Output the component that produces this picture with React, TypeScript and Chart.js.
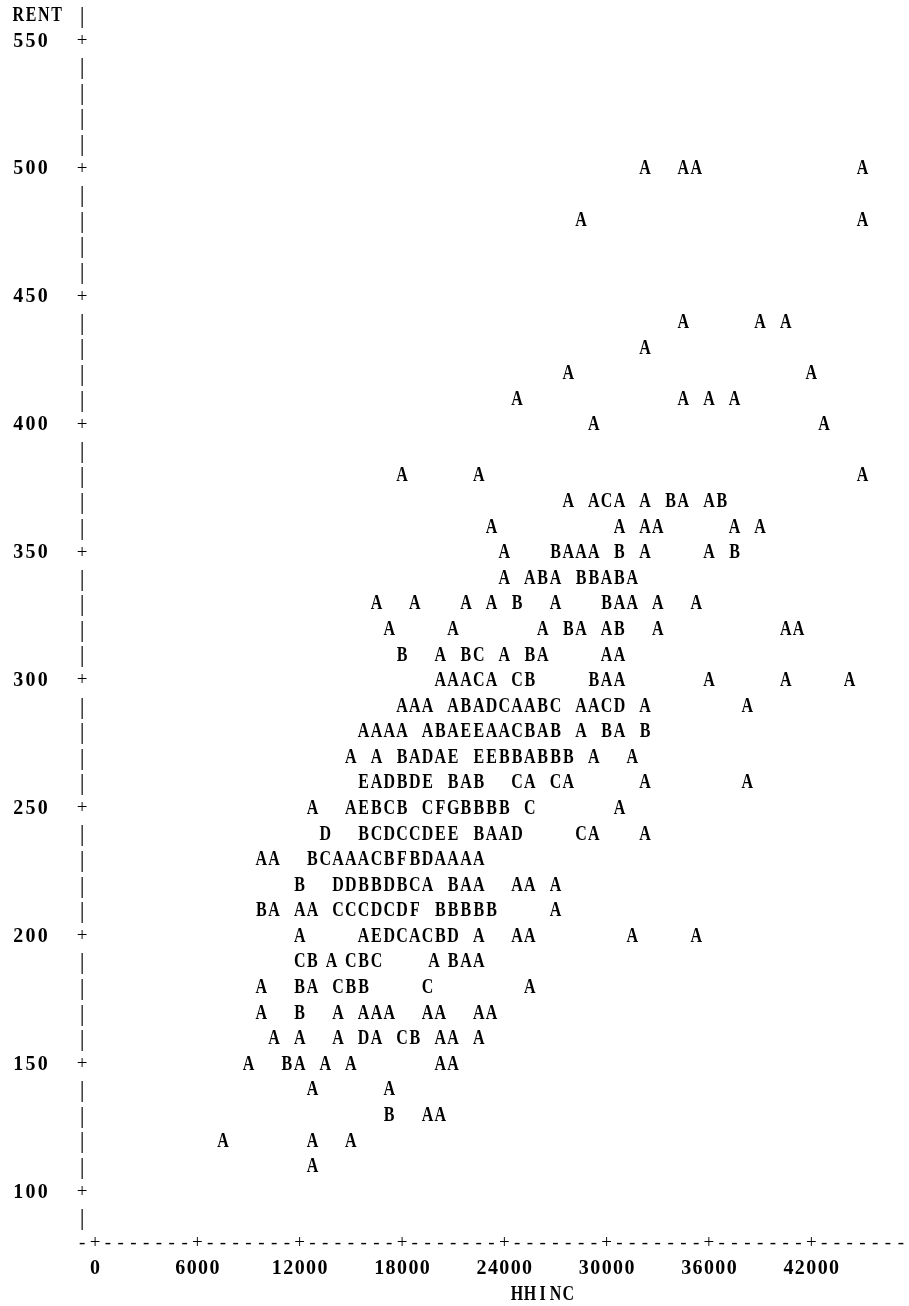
import { useEffect, useRef } from "react";
import { Chart, registerables } from "chart.js";

Chart.register(...registerables);

// [HHINC, number of observations]  (A = 1 obs, B = 2 obs, ...)
type Cell = [number, number];

const rent500: Cell[] = [[32250, 1], [34500, 1], [35250, 1], [45000, 1]];
const rent480: Cell[] = [[28500, 1], [45000, 1]];
const rent440: Cell[] = [[34500, 1], [39000, 1], [40500, 1]];
const rent430: Cell[] = [[32250, 1]];
const rent420: Cell[] = [[27750, 1], [42000, 1]];
const rent410: Cell[] = [[24750, 1], [34500, 1], [36000, 1], [37500, 1]];
const rent400: Cell[] = [[29250, 1], [42750, 1]];
const rent380: Cell[] = [[18000, 1], [22500, 1], [45000, 1]];
const rent370: Cell[] = [[27750, 1], [29250, 1], [30000, 3], [30750, 1], [32250, 1], [33750, 2], [34500, 1], [36000, 1], [36750, 2]];
const rent360: Cell[] = [[23250, 1], [30750, 1], [32250, 1], [33000, 1], [37500, 1], [39000, 1]];
const rent350: Cell[] = [[24000, 1], [27000, 2], [27750, 1], [28500, 1], [29250, 1], [30750, 2], [32250, 1], [36000, 1], [37500, 2]];
const rent340: Cell[] = [[24000, 1], [25500, 1], [26250, 2], [27000, 1], [28500, 2], [29250, 2], [30000, 1], [30750, 2], [31500, 1]];
const rent330: Cell[] = [[16500, 1], [18750, 1], [21750, 1], [23250, 1], [24750, 2], [27000, 1], [30000, 2], [30750, 1], [31500, 1], [33000, 1], [35250, 1]];
const rent320: Cell[] = [[17250, 1], [21000, 1], [26250, 1], [27750, 2], [28500, 1], [30000, 1], [30750, 2], [33000, 1], [40500, 1], [41250, 1]];
const rent310: Cell[] = [[18000, 2], [20250, 1], [21750, 2], [22500, 3], [24000, 1], [25500, 2], [26250, 1], [30000, 1], [30750, 1]];
const rent300: Cell[] = [[20250, 1], [21000, 1], [21750, 1], [22500, 3], [23250, 1], [24750, 3], [25500, 2], [29250, 2], [30000, 1], [30750, 1], [36000, 1], [40500, 1], [44250, 1]];
const rent290: Cell[] = [[18000, 1], [18750, 1], [19500, 1], [21000, 1], [21750, 2], [22500, 1], [23250, 4], [24000, 3], [24750, 1], [25500, 1], [26250, 2], [27000, 3], [28500, 1], [29250, 1], [30000, 3], [30750, 4], [32250, 1], [38250, 1]];
const rent280: Cell[] = [[15750, 1], [16500, 1], [17250, 1], [18000, 1], [19500, 1], [20250, 2], [21000, 1], [21750, 5], [22500, 5], [23250, 1], [24000, 1], [24750, 3], [25500, 2], [26250, 1], [27000, 2], [28500, 1], [30000, 2], [30750, 1], [32250, 2]];
const rent270: Cell[] = [[15000, 1], [16500, 1], [18000, 2], [18750, 1], [19500, 4], [20250, 1], [21000, 5], [22500, 5], [23250, 5], [24000, 2], [24750, 2], [25500, 1], [26250, 2], [27000, 2], [27750, 2], [29250, 1], [31500, 1]];
const rent260: Cell[] = [[15750, 5], [16500, 1], [17250, 4], [18000, 2], [18750, 4], [19500, 5], [21000, 2], [21750, 1], [22500, 2], [24750, 3], [25500, 1], [27000, 3], [27750, 1], [32250, 1], [38250, 1]];
const rent250: Cell[] = [[12750, 1], [15000, 1], [15750, 5], [16500, 2], [17250, 3], [18000, 2], [19500, 3], [20250, 6], [21000, 7], [21750, 2], [22500, 2], [23250, 2], [24000, 2], [25500, 3], [30750, 1]];
const rent240: Cell[] = [[13500, 4], [15750, 2], [16500, 3], [17250, 4], [18000, 3], [18750, 3], [19500, 4], [20250, 5], [21000, 5], [22500, 2], [23250, 1], [24000, 1], [24750, 4], [28500, 3], [29250, 1], [32250, 1]];
const rent230: Cell[] = [[9750, 1], [10500, 1], [12750, 2], [13500, 3], [14250, 1], [15000, 1], [15750, 1], [16500, 3], [17250, 2], [18000, 6], [18750, 2], [19500, 4], [20250, 1], [21000, 1], [21750, 1], [22500, 1]];
const rent220: Cell[] = [[12000, 2], [14250, 4], [15000, 4], [15750, 2], [16500, 2], [17250, 4], [18000, 2], [18750, 3], [19500, 1], [21000, 2], [21750, 1], [22500, 1], [24750, 1], [25500, 1], [27000, 1]];
const rent210: Cell[] = [[9750, 2], [10500, 1], [12000, 1], [12750, 1], [14250, 3], [15000, 3], [15750, 3], [16500, 4], [17250, 3], [18000, 4], [18750, 6], [20250, 2], [21000, 2], [21750, 2], [22500, 2], [23250, 2], [27000, 1]];
const rent200: Cell[] = [[12000, 1], [15750, 1], [16500, 5], [17250, 4], [18000, 3], [18750, 1], [19500, 3], [20250, 2], [21000, 4], [22500, 1], [24750, 1], [25500, 1], [31500, 1], [35250, 1]];
const rent190: Cell[] = [[12000, 3], [12750, 2], [13875, 1], [15000, 3], [15750, 2], [16500, 3], [19875, 1], [21000, 2], [21750, 1], [22500, 1]];
const rent180: Cell[] = [[9750, 1], [12000, 2], [12750, 1], [14250, 3], [15000, 2], [15750, 2], [19500, 3], [25500, 1]];
const rent170: Cell[] = [[9750, 1], [12000, 2], [14250, 1], [15750, 1], [16500, 1], [17250, 1], [19500, 1], [20250, 1], [22500, 1], [23250, 1]];
const rent160: Cell[] = [[10500, 1], [12000, 1], [14250, 1], [15750, 4], [16500, 1], [18000, 3], [18750, 2], [20250, 1], [21000, 1], [22500, 1]];
const rent150: Cell[] = [[9000, 1], [11250, 2], [12000, 1], [13500, 1], [15000, 1], [20250, 1], [21000, 1]];
const rent140: Cell[] = [[12750, 1], [17250, 1]];
const rent130: Cell[] = [[17250, 2], [19500, 1], [20250, 1]];
const rent120: Cell[] = [[7500, 1], [12750, 1], [15000, 1]];
const rent110: Cell[] = [[12750, 1]];

const rentLevels = [500, 480, 440, 430, 420, 410, 400, 380, 370, 360, 350, 340, 330, 320, 310, 300, 290, 280, 270, 260, 250, 240, 230, 220, 210, 200, 190, 180, 170, 160, 150, 140, 130, 120, 110];
const rentCells = [rent500, rent480, rent440, rent430, rent420, rent410, rent400, rent380, rent370, rent360, rent350, rent340, rent330, rent320, rent310, rent300, rent290, rent280, rent270, rent260, rent250, rent240, rent230, rent220, rent210, rent200, rent190, rent180, rent170, rent160, rent150, rent140, rent130, rent120, rent110];

const yTickValues = [550, 500, 450, 400, 350, 300, 250, 200, 150, 100];
const xTickValues = [0, 6000, 12000, 18000, 24000, 30000, 36000, 42000];
const yTitle = "RENT";
const xTitle = "HHINC";

// line-printer grid: one print column = 750 HHINC, one print line = 10 RENT
const COL = 750;
const LINE = 10;

const FONT_BOLD = 'bold 20px "Liberation Serif", serif';
const FONT_THIN = '19px "Liberation Serif", serif';
const FONT_BAR = '24px "Liberation Serif", serif';
const SQUEEZE = 0.8;
const DIGIT_STEP = 11.4;

const printerPlugin = {
  id: "printer",
  afterDatasetsDraw(chart: any) {
    const ctx: CanvasRenderingContext2D = chart.ctx;
    const xs = chart.scales.x;
    const ys = chart.scales.y;
    const off = 6.6;

    const glyph = (ch: string, x: number, y: number, sx = SQUEEZE) => {
      ctx.save();
      ctx.translate(x, y);
      ctx.scale(sx, 1);
      ctx.fillText(ch, 0, 0);
      ctx.restore();
    };

    ctx.save();
    ctx.fillStyle = "#000";
    ctx.textAlign = "center";
    ctx.textBaseline = "alphabetic";
    ctx.font = FONT_BOLD;

    // data symbols
    const ds = chart.data.datasets[0];
    const meta = chart.getDatasetMeta(0);
    meta.data.forEach((el: any, i: number) => {
      const p = ds.data[i];
      glyph(String.fromCharCode(64 + p.n), el.x, el.y + off);
    });

    const yTop = ys.max;
    const axisRows: number[] = [];
    for (let r = yTop; r >= 90; r -= LINE) axisRows.push(r);

    // vertical axis
    const axisX = xs.getPixelForValue(-COL);
    axisRows.forEach((r) => {
      const y = ys.getPixelForValue(r);
      if (yTickValues.includes(r)) {
        ctx.font = FONT_THIN;
        glyph("+", axisX, y + 6, 1);
      } else {
        ctx.font = FONT_BAR;
        glyph("|", axisX, y + 8.5, 1);
      }
    });

    const drawChars = (txt: string, firstCol: number, rent: number) => {
      const y = ys.getPixelForValue(rent) + off;
      for (let i = 0; i < txt.length; i++) {
        glyph(txt[i], xs.getPixelForValue((firstCol + i) * COL), y);
      }
    };

    // y title
    ctx.font = FONT_BOLD;
    drawChars(yTitle, -6, yTop);

    // y tick labels (left aligned at the first print column)
    const labelLeft = xs.getPixelForValue(-6 * COL);
    yTickValues.forEach((v) => {
      const s = String(v);
      const y = ys.getPixelForValue(v) + off;
      for (let i = 0; i < s.length; i++) glyph(s[i], labelLeft + i * (DIGIT_STEP + 0.8), y, 1);
    });

    // horizontal axis line
    const axisRent = 80;
    ctx.font = FONT_THIN;
    const ay = ys.getPixelForValue(axisRent);
    const lastCol = Math.floor(xs.max / COL);
    for (let c = -1; c <= lastCol; c++) {
      const isTick = xTickValues.includes(c * COL);
      glyph(isTick ? "+" : "-", xs.getPixelForValue(c * COL), ay + 6, 1);
    }

    // x tick labels
    ctx.font = FONT_BOLD;
    const ly = ys.getPixelForValue(70) + off;
    xTickValues.forEach((v) => {
      const s = String(v);
      const cx = xs.getPixelForValue(v);
      for (let i = 0; i < s.length; i++) {
        glyph(s[i], cx + (i - (s.length - 1) / 2) * DIGIT_STEP, ly, 1);
      }
    });

    // x title
    drawChars(xTitle, 33, 60);
    ctx.restore();
  },
};

export default function App() {
  const ref = useRef<HTMLCanvasElement | null>(null);
  useEffect(() => {
    document.body.style.margin = "0";
    const points: { x: number; y: number; n: number }[] = [];
    rentLevels.forEach((rent, i) => {
      rentCells[i].forEach(([hh, n]) => points.push({ x: hh, y: rent, n }));
    });
    const chart = new Chart(ref.current as HTMLCanvasElement, {
      type: "scatter",
      data: {
        datasets: [
          {
            data: points as any,
            pointRadius: 0,
            pointHoverRadius: 0,
            showLine: false,
          },
        ],
      },
      options: {
        animation: false,
        responsive: false,
        devicePixelRatio: 1,
        events: [],
        layout: { padding: { left: 69.44, right: 8.2, top: 14.42, bottom: 12.6 } },
        scales: {
          x: { type: "linear", min: -1500, max: 47250, display: false },
          y: { type: "linear", min: 60, max: 560, display: false },
        },
        plugins: { legend: { display: false }, tooltip: { enabled: false } },
      },
      plugins: [printerPlugin],
    });
    return () => chart.destroy();
  }, []);
  return (
    <div style={{ width: 909, height: 1306, background: "#fff" }}>
      <canvas ref={ref} width={909} height={1306} style={{ display: "block" }} />
    </div>
  );
}
